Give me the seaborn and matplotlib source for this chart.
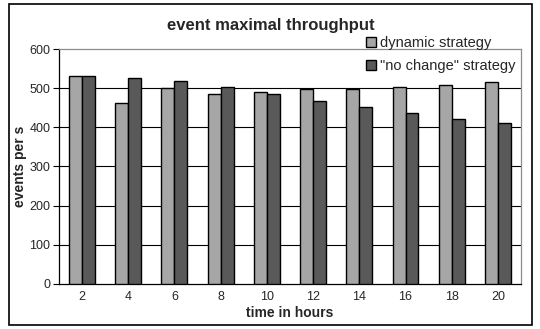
import matplotlib
matplotlib.use("Agg")
import matplotlib.pyplot as plt
import seaborn as sns
import pandas as pd
import numpy as np
from matplotlib.patches import Rectangle

hours = [2, 4, 6, 8, 10, 12, 14, 16, 18, 20]
dynamic = [530, 463, 501, 486, 490, 497, 497, 504, 509, 516]
no_change = [530, 525, 519, 502, 485, 466, 451, 437, 422, 412]
series_names = ["dynamic strategy", "\"no change\" strategy"]
y_ticks = [0, 100, 200, 300, 400, 500, 600]

df = pd.DataFrame({
    "hours": [str(h) for h in hours] * 2,
    "value": dynamic + no_change,
    "strategy": [series_names[0]] * len(hours) + [series_names[1]] * len(hours),
})

sns.set_style("white")
plt.rcParams["font.family"] = ["Liberation Sans", "DejaVu Sans"]

fig = plt.figure(figsize=(5.4, 3.29), dpi=100)
ax = fig.add_axes([0.109, 0.137, 0.856, 0.714])

sns.barplot(data=df, x="hours", y="value", hue="strategy",
            palette=["#a6a6a6", "#595959"], width=0.56, gap=0,
            edgecolor="black", linewidth=1.0, ax=ax, zorder=3)

handles, labels = ax.get_legend_handles_labels()
ax.get_legend().remove()

ax.set_ylim(0, 600)
ax.set_xlim(-0.5, len(hours) - 0.5)
ax.set_yticks(y_ticks)
ax.set_yticklabels([str(t) for t in y_ticks], fontsize=9)
ax.tick_params(axis="x", length=0, labelsize=9, pad=5)
ax.set_xticks(np.arange(-0.5, len(hours)), minor=True)
ax.tick_params(axis="x", which="minor", length=4, width=0.8, color="black", direction="out")
ax.tick_params(axis="y", length=4, width=0.8, color="black", direction="out", left=True, pad=2)

for y in y_ticks[1:-1]:
    ax.axhline(y, color="black", linewidth=0.8, zorder=1)

for side in ["left", "bottom"]:
    ax.spines[side].set_color("black")
    ax.spines[side].set_linewidth(0.9)
for side in ["top", "right"]:
    ax.spines[side].set_color("#8c8c8c")
    ax.spines[side].set_linewidth(0.9)

ax.set_ylabel("events per s", fontsize=10, fontweight="bold", labelpad=2)
ax.set_xlabel("time in hours", fontsize=10, fontweight="bold")
ax.xaxis.set_label_coords(0.5, -0.095)

fig.text(0.502, 0.924, "event maximal throughput", ha="center", va="center",
         fontsize=12, fontweight="bold")

fig.legend(handles, labels, loc="upper left", bbox_to_anchor=(0.678, 0.89),
           bbox_transform=fig.transFigure, frameon=False, fontsize=10.5,
           handlelength=0.65, handleheight=0.65, handletextpad=0.3,
           labelspacing=0.6, borderpad=0, borderaxespad=0)

fig.patches.append(Rectangle((9 / 540, 4 / 329), 523 / 540, 321 / 329,
                             transform=fig.transFigure, fill=False,
                             edgecolor="black", linewidth=1.2))

fig.savefig("out.png", dpi=100)
